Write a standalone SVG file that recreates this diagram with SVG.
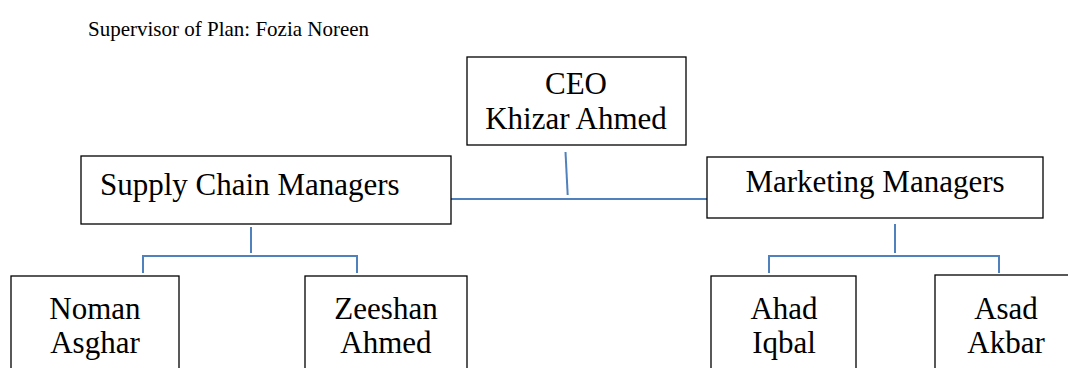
<svg xmlns="http://www.w3.org/2000/svg" width="1068" height="368" viewBox="0 0 1068 368">
<style>
.box{fill:#fff;stroke:#000;stroke-width:1.3}
.t{font-family:"Liberation Serif","Times New Roman",serif;font-size:31px;fill:#000;text-anchor:middle}
.title{font-family:"Liberation Serif","Times New Roman",serif;font-size:21px;fill:#000}
.c{stroke:#4f81bd;stroke-width:2;fill:none}
</style>
<rect width="1068" height="368" fill="#fff"/>
<text class="title" x="88" y="36">Supervisor of Plan: Fozia Noreen</text>
<g id="connectors">
<path class="c" d="M565.5 152 L567.7 195"/>
<path class="c" d="M451 199 H707"/>
<path class="c" d="M251 227 V253"/>
<path class="c" d="M143 273 V256 H357 V273"/>
<path class="c" d="M895 224 V253"/>
<path class="c" d="M769 273 V256 H999 V273"/>
</g>
<g id="ceo"><rect class="box" x="467" y="57" width="219" height="88"/><text class="t" x="576" y="94">CEO</text><text class="t" x="576" y="129">Khizar Ahmed</text></g>
<g id="supply"><rect class="box" x="81" y="156" width="370" height="68"/><text class="t" x="100" y="195" style="text-anchor:start">Supply Chain Managers</text></g>
<g id="marketing"><rect class="box" x="707" y="157" width="336" height="61"/><text class="t" x="875" y="192">Marketing Managers</text></g>
<g id="noman"><rect class="box" x="11" y="276" width="168" height="110"/><text class="t" x="95" y="319">Noman</text><text class="t" x="95" y="353">Asghar</text></g>
<g id="zeeshan"><rect class="box" x="305" y="276" width="162" height="110"/><text class="t" x="386" y="319">Zeeshan</text><text class="t" x="386" y="353">Ahmed</text></g>
<g id="ahad"><rect class="box" x="711" y="276" width="145" height="110"/><text class="t" x="784" y="319">Ahad</text><text class="t" x="784" y="353">Iqbal</text></g>
<g id="asad"><rect class="box" x="935" y="275" width="160" height="110"/><text class="t" x="1006" y="319">Asad</text><text class="t" x="1006" y="353">Akbar</text></g>
</svg>
